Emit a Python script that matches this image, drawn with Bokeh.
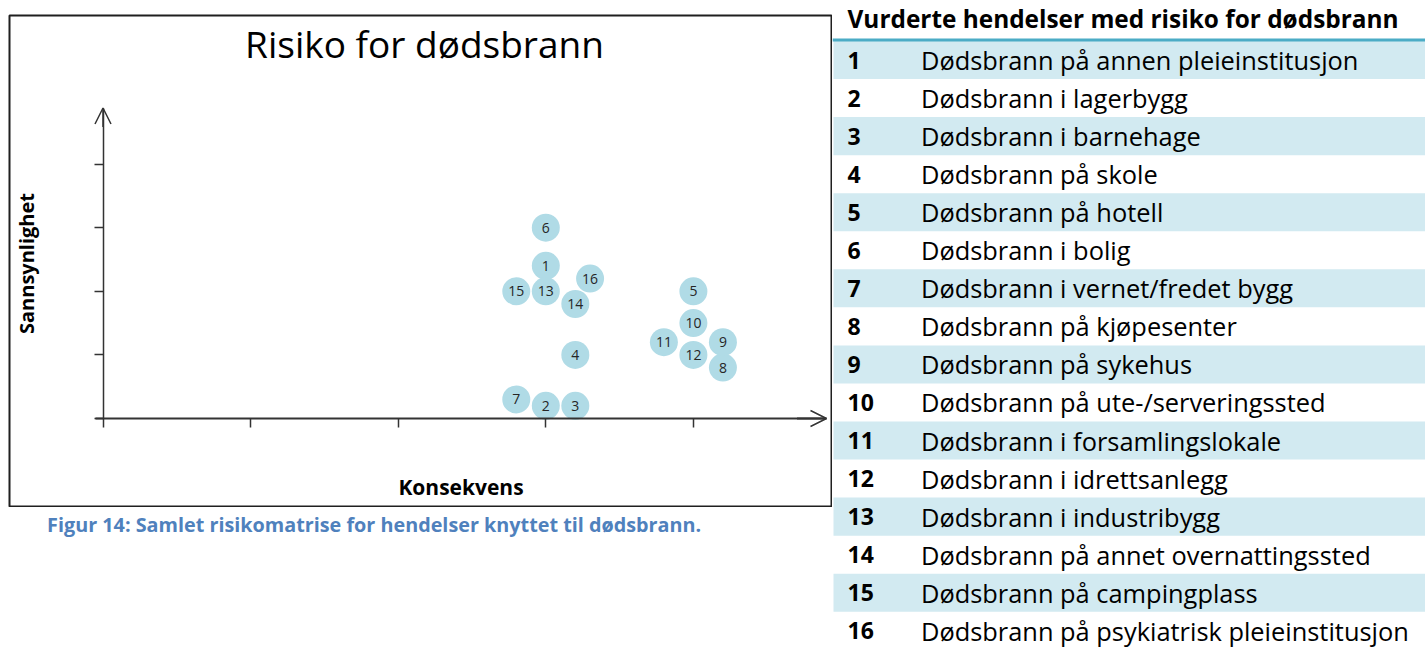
from bokeh.plotting import figure
from bokeh.models import (Range1d, LinearAxis, FixedTicker, Arrow, OpenHead, Label,
                          Span, ColumnDataSource)
from bokeh.layouts import row, column
from bokeh.core.properties import value
from bokeh.embed import file_html
from bokeh.resources import INLINE

# ---------------- data ----------------
event_ids = [str(i) for i in range(1, 17)]
event_names = [
    "Dødsbrann på annen pleieinstitusjon",
    "Dødsbrann i lagerbygg",
    "Dødsbrann i barnehage",
    "Dødsbrann på skole",
    "Dødsbrann på hotell",
    "Dødsbrann i bolig",
    "Dødsbrann i vernet/fredet bygg",
    "Dødsbrann på kjøpesenter",
    "Dødsbrann på sykehus",
    "Dødsbrann på ute-/serveringssted",
    "Dødsbrann i forsamlingslokale",
    "Dødsbrann i idrettsanlegg",
    "Dødsbrann i industribygg",
    "Dødsbrann på annet overnattingssted",
    "Dødsbrann på campingplass",
    "Dødsbrann på psykiatrisk pleieinstitusjon",
]
konsekvens = [3.0, 3.0, 3.2, 3.2, 4.0, 3.0, 2.8, 4.2, 4.2, 4.0, 3.8, 4.0, 3.0, 3.2, 2.8, 3.3]
sannsynlighet = [2.4, 0.2, 0.2, 1.0, 2.0, 3.0, 0.3, 0.8, 1.2, 1.5, 1.2, 1.0, 2.0, 1.8, 2.0, 2.2]
x_ticks = [0, 1, 2, 3, 4]
y_ticks = [0, 1, 2, 3, 4]
title_text = "Risiko for dødsbrann"
x_label = "Konsekvens"
y_label = "Sannsynlighet"
caption_text = "Figur 14: Samlet risikomatrise for hendelser knyttet til dødsbrann."
table_header = "Vurderte hendelser med risiko for dødsbrann"

# ---------------- layout constants (screen px) ----------------
FONT = "Open Sans"
X0, XS = 102.5, 147.6      # screen x of value 0, px per unit
Y0, YS = 418.0, 63.6       # screen y of value 0, px per unit
BOX_L, BOX_R, BOX_T, BOX_B = 9, 832, 15, 506
LEFT_W, PAGE_H = 832, 648
AXIS_COLOR = "#333333"
BUBBLE_COLOR = "#b0dbe6"


def px2x(px):
    return (px - X0) / XS


def py2y(py):
    return (Y0 - py) / YS


# ---------------- chart ----------------
p = figure(width=LEFT_W, height=BOX_B + 1,
           x_range=Range1d(px2x(BOX_L), px2x(BOX_R)),
           y_range=Range1d(py2y(BOX_B), py2y(BOX_T)),
           x_axis_location=None, y_axis_location=None,
           toolbar_location=None, output_backend="svg",
           min_border_left=BOX_L, min_border_right=LEFT_W - BOX_R,
           min_border_top=BOX_T, min_border_bottom=1,
           outline_line_color="#1f1f1f", outline_line_width=2,
           background_fill_color="white", border_fill_color="white")
p.grid.grid_line_color = None

x_end = px2x(826)
y_end = py2y(107.5)

common_axis = dict(major_label_text_color=None, major_label_text_font_size="1px",
                   major_label_standoff=0, major_tick_out=9, major_tick_in=0,
                   minor_tick_out=0, minor_tick_in=0, axis_line_color=AXIS_COLOR,
                   major_tick_line_color=AXIS_COLOR, major_tick_line_width=1.5,
                   axis_label_text_font=FONT, axis_label_text_font_style="bold",
                   axis_label_text_color="black")

xaxis = LinearAxis(fixed_location=0, ticker=FixedTicker(ticks=x_ticks),
                   bounds=(px2x(95), x_end), axis_line_width=1.8,
                   axis_label=x_label, axis_label_text_font_size="21px",
                   axis_label_standoff=45, **common_axis)
p.add_layout(xaxis, "below")

yaxis = LinearAxis(fixed_location=0, ticker=FixedTicker(ticks=y_ticks),
                   bounds=(0, y_end), axis_line_width=1.5,
                   axis_label=y_label, axis_label_text_font_size="20px",
                   axis_label_standoff=55, **common_axis)
p.add_layout(yaxis, "left")

p.add_layout(Arrow(end=OpenHead(size=16, line_color=AXIS_COLOR, line_width=1.5),
                   x_start=x_end - 0.2, y_start=0, x_end=x_end, y_end=0,
                   line_color=AXIS_COLOR, line_width=1.8))
p.add_layout(Arrow(end=OpenHead(size=16, line_color=AXIS_COLOR, line_width=1.5),
                   x_start=0, y_start=y_end - 0.3, x_end=0, y_end=y_end,
                   line_color=AXIS_COLOR, line_width=1.5))

p.add_layout(Label(x=px2x(424), y=py2y(43), text=title_text, text_align="center",
                   text_baseline="middle", text_font=FONT, text_font_size="37px",
                   text_color="black"))

src = ColumnDataSource(dict(x=konsekvens, y=sannsynlighet, label=event_ids))
p.scatter("x", "y", size=28, fill_color=BUBBLE_COLOR, line_color=None, source=src)
p.text("x", "y", text="label", source=src, text_align="center", text_baseline="middle",
       text_font=value(FONT), text_font_size="14px", text_color="#262626")

# ---------------- caption ----------------
cap = figure(width=LEFT_W, height=PAGE_H - (BOX_B + 1),
             x_range=Range1d(0, LEFT_W), y_range=Range1d(PAGE_H, BOX_B + 1),
             x_axis_location=None, y_axis_location=None, toolbar_location=None,
             output_backend="svg", min_border=0, outline_line_color=None)
cap.grid.grid_line_color = None
cap.text(x=[38], y=[524], text=[caption_text], text_align="left", text_baseline="middle",
         text_font=value(FONT), text_font_style="bold", text_font_size="19.8px",
         text_color="#4f81bd")

# ---------------- table ----------------
TABLE_W = 1425 - LEFT_W
ROW_H, ROW1_Y = 38.05, 59.5


def row_of(py):
    return 1 + (py - ROW1_Y) / ROW_H


rows = list(range(1, len(event_ids) + 1))
t = figure(width=TABLE_W, height=PAGE_H, x_range=Range1d(0, TABLE_W),
           y_range=Range1d(row_of(PAGE_H), row_of(0)),
           x_axis_location=None, y_axis_location=None, toolbar_location=None,
           output_backend="svg", min_border=0, outline_line_color=None)
t.grid.grid_line_color = None

shaded = rows[::2]
t.hbar(y=shaded, height=1, left=1, right=TABLE_W, fill_color="#d2eaf1", line_color=None)
t.add_layout(Span(location=row_of(39.5), dimension="width", line_color="#4bacc6", line_width=3))

tsrc = ColumnDataSource(dict(y=rows, num=event_ids, name=event_names))
t.text(x=15, y="y", text="num", source=tsrc, text_align="left", text_baseline="middle",
       text_font=value(FONT), text_font_style="bold", text_font_size="23px", text_color="black")
t.text(x=88.5, y="y", text="name", source=tsrc, text_align="left", text_baseline="middle",
       text_font=value(FONT), text_font_size="25.4px", text_color="black")
t.add_layout(Label(x=15, y=row_of(18), text=table_header, text_align="left",
                   text_baseline="middle", text_font=FONT, text_font_style="bold",
                   text_font_size="24.4px", text_color="black"))

layout = row(column(p, cap), t)

open("out.html", "w").write(file_html(layout, INLINE))
